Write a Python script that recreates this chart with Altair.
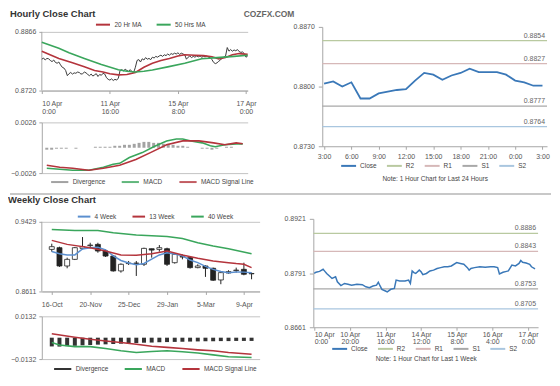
import altair as alt
import pandas as pd

FONT = "Liberation Sans"
LBL = "#555555"
GRID = "#c4c4c4"
AXL = "#a6a6a6"
RED = "#b4343c"
GREEN = "#3aa65c"

# ---------------- hourly chart data ----------------
h_ticks = [0, 20, 40, 60, 80, 100, 120]
h_tick_labels = [["10 Apr", "0:00"], ["10 Apr", "20:00"], ["11 Apr", "16:00"], ["14 Apr", "12:00"],
                 ["15 Apr", "8:00"], ["16 Apr", "4:00"], ["17 Apr", "0:00"]]
h_yticks = [0.8720, 0.8768, 0.8817, 0.8866]
h_close = [0.8798, 0.8801, 0.8796, 0.8800, 0.8799, 0.8795, 0.8792, 0.8796, 0.8790, 0.8788,
           0.8791, 0.8784, 0.8778, 0.8776, 0.8770, 0.8757, 0.8762, 0.8765, 0.8761, 0.8764,
           0.8763, 0.8766, 0.8765, 0.8761, 0.8762, 0.8766, 0.8764, 0.8760, 0.8757, 0.8761,
           0.8756, 0.8759, 0.8762, 0.8755, 0.8760, 0.8758, 0.8763, 0.8761, 0.8752, 0.8748,
           0.8746, 0.8749, 0.8745, 0.8748, 0.8746, 0.8751, 0.8770, 0.8772, 0.8769, 0.8773,
           0.8770, 0.8768, 0.8772, 0.8767, 0.8765, 0.8778, 0.8795, 0.8797, 0.8791, 0.8799,
           0.8796, 0.8802, 0.8798, 0.8800, 0.8797, 0.8803, 0.8801, 0.8805, 0.8803, 0.8806,
           0.8808, 0.8805, 0.8809, 0.8807, 0.8811, 0.8808, 0.8812, 0.8810, 0.8813, 0.8811,
           0.8814, 0.8810, 0.8813, 0.8811, 0.8809, 0.8798, 0.8803, 0.8806, 0.8802, 0.8805,
           0.8803, 0.8806, 0.8804, 0.8806, 0.8803, 0.8805, 0.8804, 0.8806, 0.8803, 0.8802,
           0.8797, 0.8790, 0.8787, 0.8789, 0.8793, 0.8796, 0.8801, 0.8803, 0.8806, 0.8827,
           0.8818, 0.8822, 0.8818, 0.8821, 0.8819, 0.8822, 0.8817, 0.8815, 0.8816, 0.8812,
           0.8803, 0.8806]
ma20_i = [0, 10, 18, 25, 31, 36, 40, 45, 50, 55, 60, 65, 70, 75, 80, 84, 90, 95, 100, 104, 108, 112, 116, 121]
ma20_v = [0.8818, 0.8800, 0.8789, 0.8779, 0.8770, 0.8766, 0.8762, 0.8759, 0.8760, 0.8765, 0.8778, 0.8788,
          0.8795, 0.8800, 0.8806, 0.8809, 0.8808, 0.8807, 0.8804, 0.8799, 0.8802, 0.8809, 0.8812, 0.8810]
ma50_i = [0, 10, 16, 25, 35, 45, 50, 55, 60, 65, 74, 84, 94, 103, 113, 121]
ma50_v = [0.8840, 0.8825, 0.8814, 0.8800, 0.8785, 0.8772, 0.8768, 0.8766, 0.8768, 0.8771, 0.8779,
          0.8788, 0.8799, 0.8802, 0.8805, 0.8808]
hmacd_i = [0, 8, 16, 26, 35, 41, 45, 51, 59, 66, 74, 80, 84, 89, 96, 101, 104, 110, 117, 121]
hmacd_v = [-0.0021, -0.0022, -0.0023, -0.0023, -0.0020, -0.0017, -0.0016, -0.0010, -0.0005, 0.0001,
           0.0007, 0.0009, 0.0009, 0.0007, 0.0005, 0.0002, 0.0001, 0.0003, 0.0004, 0.0004]
hsig_i = [0, 8, 16, 26, 35, 45, 55, 64, 74, 84, 94, 103, 110, 117, 121]
hsig_v = [-0.0018, -0.0020, -0.0021, -0.0023, -0.0021, -0.0018, -0.0012, -0.0005, 0.0003, 0.0007,
          0.0007, 0.0005, 0.0003, 0.0005, 0.0004]
hdiv_i = list(range(0, 121, 3))
hdiv_v = [-0.0002, -0.0002, -0.0001, -0.0001, -0.0001, 0.0, -0.0001, 0.0, 0.0, 0.0, 0.0001, 0.0001,
          0.0001, 0.0001, 0.0002, 0.0002, 0.0003, 0.0003, 0.0004, 0.0005, 0.0006, 0.0006, 0.0005,
          0.0005, 0.0004, 0.0004, 0.0003, 0.0002, 0.0002, 0.0001, 0.0, 0.0, -0.0001, -0.0001,
          -0.0002, -0.0001, 0.0, 0.0001, 0.0001, 0.0, 0.0]

# 24-hour pivot chart
d_ticks = [0, 3, 6, 9, 12, 15, 18, 21, 24]
d_tick_labels = ["3:00", "6:00", "9:00", "12:00", "15:00", "18:00", "21:00", "0:00", "3:00"]
d_close = [0.88035, 0.8806, 0.8800, 0.8805, 0.8786, 0.8786, 0.8792, 0.8794, 0.8796, 0.8797,
           0.8807, 0.8816, 0.8814, 0.8808, 0.8813, 0.8816, 0.8821, 0.8817, 0.8817, 0.8817,
           0.8814, 0.8807, 0.8805, 0.8801, 0.8801]
d_piv_names = ["R2", "R1", "S1", "S2"]
d_piv_pos = [0.8854, 0.8827, 0.8777, 0.8753]
d_piv_text = ["0.8854", "0.8827", "0.8777", "0.8764"]

# ---------------- weekly chart data ----------------
w_ticks = [0, 5, 10, 15, 20, 25]
w_tick_labels = ["16-Oct", "20-Nov", "25-Dec", "29-Jan", "5-Mar", "9-Apr"]
w_yticks = [0.8611, 0.8884, 0.9156, 0.9429]
w_open = [0.9105, 0.9125, 0.8910, 0.8988, 0.9117, 0.9150, 0.9164, 0.9086, 0.9027, 0.8852, 0.8938,
          0.8944, 0.8930, 0.9113, 0.9105, 0.9113, 0.8949, 0.9020, 0.9008, 0.8891, 0.8910, 0.8883,
          0.8746, 0.8828, 0.8856, 0.8871, 0.8822]
w_high = [0.9172, 0.9137, 0.9008, 0.9133, 0.9250, 0.9183, 0.9183, 0.9105, 0.9039, 0.8941, 0.8969,
          0.8969, 0.9125, 0.9113, 0.9156, 0.9125, 0.9055, 0.9047, 0.9016, 0.8930, 0.8918, 0.8891,
          0.8844, 0.8860, 0.8891, 0.8949, 0.8832]
w_low = [0.9078, 0.8899, 0.8883, 0.8980, 0.9105, 0.9117, 0.9066, 0.9016, 0.8844, 0.8832, 0.8922,
         0.8793, 0.8910, 0.9008, 0.9078, 0.8910, 0.8938, 0.8988, 0.8879, 0.8883, 0.8782, 0.8735,
         0.8696, 0.8820, 0.8832, 0.8801, 0.8754]
w_close = [0.9137, 0.8910, 0.8988, 0.9125, 0.9137, 0.9156, 0.9086, 0.9027, 0.8852, 0.8930, 0.8944,
           0.8941, 0.9117, 0.9097, 0.9125, 0.8930, 0.9047, 0.9016, 0.8891, 0.8910, 0.8883, 0.8743,
           0.8832, 0.8844, 0.8862, 0.8813, 0.8818]
w_ma4 = [0.9080, 0.9055, 0.9040, 0.9040, 0.9110, 0.9125, 0.9130, 0.9100, 0.9030, 0.8975, 0.8945,
         0.8925, 0.8940, 0.8990, 0.9040, 0.9065, 0.9050, 0.9030, 0.8980, 0.8950, 0.8905, 0.8870,
         0.8845, 0.8830, 0.8840, 0.8838, 0.8830]
w_ma13_i = [0, 2, 5, 7, 9, 11, 13, 15, 17, 19, 21, 23, 24, 25, 26]
w_ma13_v = [0.9211, 0.9164, 0.9125, 0.9086, 0.9039, 0.9035, 0.9055, 0.9086, 0.9039, 0.9000, 0.8969,
            0.8949, 0.8938, 0.8930, 0.8891]
w_ma40_i = [0, 3, 6, 8, 11, 15, 17, 19, 21, 23, 26]
w_ma40_v = [0.9339, 0.9328, 0.9328, 0.9300, 0.9273, 0.9257, 0.9234, 0.9183, 0.9144, 0.9113, 0.9055]
wmacd_i = [0, 1, 3, 5, 7, 9, 11, 13, 15, 17, 19, 21, 23, 26]
wmacd_v = [-0.0030, -0.0045, -0.0055, -0.0055, -0.0067, -0.0081, -0.0091, -0.0085, -0.0081, -0.0087,
           -0.0095, -0.0106, -0.0118, -0.0122]
wsig_i = [0, 3, 5, 7, 9, 11, 13, 15, 17, 19, 21, 23, 26]
wsig_v = [0.0024, 0.0003, -0.0010, -0.0020, -0.0030, -0.0040, -0.0053, -0.0060, -0.0067, -0.0075,
          -0.0081, -0.0091, -0.0102]
wdiv_v = [-0.0054, -0.0055, -0.0052, -0.0050, -0.0047, -0.0045, -0.0043, -0.0041, -0.0039, -0.0037,
          -0.0035, -0.0033, -0.0031, -0.0030, -0.0028, -0.0027, -0.0026, -0.0025, -0.0024, -0.0023,
          -0.0022, -0.0022, -0.0021, -0.0021, -0.0020, -0.0020, -0.0020]

# one-week pivot chart
k_i = [0, 1, 3, 5, 6, 7, 9, 10, 12, 13, 15, 17, 19, 21, 24, 27, 29, 31, 33, 35, 36, 37, 38, 40, 41,
       42, 43, 45, 46, 48, 51, 53, 54, 55, 56, 57, 59, 60, 61, 63, 65, 67, 69, 71, 73, 75, 77, 80,
       82, 84, 86, 87, 88, 90, 93, 96, 99, 101, 103, 104, 106, 108, 109, 111, 113, 115, 116, 117,
       119, 121, 122, 124]
k_v = [0.8790, 0.8793, 0.8795, 0.8800, 0.8795, 0.8790, 0.8782, 0.8778, 0.8782, 0.8770, 0.8761,
       0.8766, 0.8764, 0.8762, 0.8764, 0.8763, 0.8758, 0.8756, 0.8760, 0.8762, 0.8769, 0.8760,
       0.8752, 0.8748, 0.8746, 0.8749, 0.8752, 0.8754, 0.8774, 0.8772, 0.8772, 0.8774, 0.8766,
       0.8796, 0.8792, 0.8790, 0.8798, 0.8794, 0.8787, 0.8790, 0.8796, 0.8798, 0.8802, 0.8804,
       0.8806, 0.8806, 0.8808, 0.8816, 0.8814, 0.8812, 0.8804, 0.8798, 0.8802, 0.8804, 0.8806,
       0.8805, 0.8806, 0.8806, 0.8804, 0.8789, 0.8793, 0.8795, 0.8796, 0.8810, 0.8808, 0.8814,
       0.8821, 0.8817, 0.8815, 0.8812, 0.8806, 0.8801]
k_piv_names = ["R2", "R1", "S1", "S2"]
k_piv_pos = [0.8886, 0.8843, 0.8753, 0.8705]
k_piv_text = ["0.8886", "0.8843", "0.8753", "0.8705"]

PIV_DOMAIN = ["Close", "R2", "R1", "S1", "S2"]
PIV_RANGE = ["#3a78b8", "#b9c9a0", "#d6b8b8", "#a8a8a8", "#a9c6df"]


def label_expr(ticks, labels):
    expr = "''"
    for t, lab in reversed(list(zip(ticks, labels))):
        if isinstance(lab, list):
            lit = "[" + ",".join("'%s'" % s for s in lab) + "]"
        else:
            lit = "'%s'" % lab
        expr = "datum.value == %s ? %s : (%s)" % (t, lit, expr)
    return expr


def yaxis(vals, ext, grid=True, domain=True):
    return alt.Axis(values=vals, format=".4f", title=None, grid=grid, minExtent=ext, maxExtent=ext,
                    tickSize=3, labelPadding=3, domain=domain)


def leg(x, y, pad=10, size=196):
    return alt.Legend(orient="none", legendX=x, legendY=y, direction="horizontal", title=None,
                      symbolType="stroke", symbolSize=size, symbolStrokeWidth=2,
                      columnPadding=pad, labelFontSize=6.5, labelColor="#444", labelOffset=3)


def indep(c):
    return c.resolve_scale(color="independent").resolve_legend(color="independent")


def text_layer(txt, x, y, size=9.5, color="#333"):
    return alt.Chart(pd.DataFrame({"t": [txt]})).mark_text(
        align="left", baseline="top", fontSize=size, fontWeight="bold",
        color=color).encode(x=alt.value(x), y=alt.value(y), text="t:N")


def axis_line(lo, hi):
    return alt.Chart(pd.DataFrame({"lo": [lo], "hi": [hi]})).mark_rule(color=AXL).encode(
        x=alt.value(0), y="lo:Q", y2="hi:Q")


# ---------------- hourly price ----------------
HW, HPH, HMH = 207, 64, 51
hx_scale = alt.Scale(domain=[0, 121], nice=False, zero=False)
df_hc = pd.DataFrame({"i": list(range(len(h_close))), "v": h_close})
df_hma = pd.concat([pd.DataFrame({"i": ma20_i, "v": ma20_v, "s": "20 Hr MA"}),
                    pd.DataFrame({"i": ma50_i, "v": ma50_v, "s": "50 Hrs MA"})])
hp_close = alt.Chart(df_hc).mark_line(color="#3a3a3a", strokeWidth=1).encode(
    x=alt.X("i:Q", scale=hx_scale,
            axis=alt.Axis(values=h_ticks, labelExpr=label_expr(h_ticks, h_tick_labels), title=None,
                          grid=False, tickSize=3, labelPadding=6, labelLineHeight=8.5)),
    y=alt.Y("v:Q", scale=alt.Scale(domain=[0.8720, 0.88784], nice=False, zero=False),
            axis=yaxis(h_yticks, 32, domain=False)))
hp_ma = alt.Chart(df_hma).mark_line(strokeWidth=1.6).encode(
    x="i:Q", y="v:Q",
    color=alt.Color("s:N", scale=alt.Scale(domain=["20 Hr MA", "50 Hrs MA"], range=[RED, GREEN]),
                    legend=leg(53, -11, pad=10, size=200)))
HP = alt.layer(axis_line(h_yticks[0], h_yticks[-1]), hp_close, hp_ma,
               text_layer("Hourly Close Chart", -32, -18)
               ).properties(width=HW, height=HPH)

# ---------------- hourly MACD ----------------
df_hline = pd.concat([pd.DataFrame({"i": hmacd_i, "v": hmacd_v, "s": "MACD"}),
                      pd.DataFrame({"i": hsig_i, "v": hsig_v, "s": "MACD Signal Line"})])
df_hdiv = pd.DataFrame({"i": hdiv_i, "v": hdiv_v, "s": "Divergence"})
hm_scale_c = alt.Scale(domain=["Divergence", "MACD", "MACD Signal Line"], range=["#8c8c8c", GREEN, RED])
hm_div = alt.Chart(df_hdiv).mark_bar(size=3, opacity=0.8).encode(
    x=alt.X("i:Q", scale=hx_scale, axis=None),
    y=alt.Y("v:Q", scale=alt.Scale(domain=[-0.0026, 0.0026], nice=False, zero=False),
            axis=yaxis([-0.0026, 0.0, 0.0026], 32)),
    color=alt.Color("s:N", scale=hm_scale_c, legend=leg(8, 50, pad=12, size=300)))
hm_lines = alt.Chart(df_hline).mark_line(strokeWidth=1.6).encode(
    x="i:Q", y="v:Q", color=alt.Color("s:N", scale=hm_scale_c))
HM = alt.layer(hm_div, hm_lines).properties(width=HW, height=HMH)

# ---------------- 24h pivot ----------------
PW, DPH = 226, 120
df_dc = pd.DataFrame({"i": list(range(len(d_close))), "v": d_close, "s": "Close"})
df_dp = pd.DataFrame({"v": d_piv_pos, "t": d_piv_text, "s": d_piv_names})
piv_color = alt.Color("s:N", scale=alt.Scale(domain=PIV_DOMAIN, range=PIV_RANGE),
                      legend=leg(18, 131, pad=6, size=225))
dp_rules = alt.Chart(df_dp).mark_rule(strokeWidth=1.3).encode(
    y=alt.Y("v:Q", scale=alt.Scale(domain=[0.8730, 0.8870], nice=False, zero=False),
            axis=alt.Axis(values=[0.8730, 0.8765, 0.8800, 0.8836, 0.8870], format=".4f", title=None,
                          grid=False, minExtent=30, maxExtent=30, tickSize=4, labelPadding=4)),
    color=piv_color)
dp_line = alt.Chart(df_dc).mark_line(strokeWidth=1.8).encode(
    x=alt.X("i:Q", scale=alt.Scale(domain=[-0.2, 24.5], nice=False, zero=False),
            axis=alt.Axis(values=d_ticks, labelExpr=label_expr(d_ticks, d_tick_labels),
                          title="Note: 1 Hour Chart for Last 24 Hours", titleFontSize=6.5,
                          titleFontWeight="normal", titleColor="#444", titlePadding=16,
                          grid=False, tickSize=3, labelPadding=3)),
    y="v:Q", color=piv_color)
dp_text = alt.Chart(df_dp).mark_text(align="right", baseline="bottom", dy=-2, fontSize=7,
                                     color="#666").encode(x=alt.value(PW - 2), y="v:Q", text="t:N")
DP = alt.layer(dp_rules, dp_line, dp_text,
               text_layer("COZFX.COM", -79, -17, size=8.5, color="#666")
               ).properties(width=PW, height=DPH)

# ---------------- weekly price ----------------
WW, WPH, WMH = 219, 73, 43
wx_scale = alt.Scale(domain=[-0.65, 26.4], nice=False, zero=False)
wy_scale = alt.Scale(domain=[0.8611, 0.9464], nice=False, zero=False)
n = len(w_open)
df_w = pd.DataFrame({"i": list(range(n)), "o": w_open, "h": w_high, "l": w_low, "c": w_close,
                     "up": [c >= o for o, c in zip(w_open, w_close)]})
w_wick = alt.Chart(df_w).mark_rule(color="#222", strokeWidth=1).encode(
    x=alt.X("i:Q", scale=wx_scale,
            axis=alt.Axis(values=w_ticks, labelExpr=label_expr(w_ticks, w_tick_labels), title=None,
                          grid=False, tickSize=3, labelPadding=6)),
    y=alt.Y("l:Q", scale=wy_scale, axis=yaxis(w_yticks, 34, domain=False)),
    y2="h:Q")
w_body = alt.Chart(df_w).mark_bar(size=5, stroke="#222", strokeWidth=0.8).encode(
    x="i:Q", y="o:Q", y2="c:Q",
    fill=alt.condition("datum.up", alt.value("white"), alt.value("#222")))
df_wma = pd.concat([pd.DataFrame({"i": list(range(n)), "v": w_ma4, "s": "4 Week"}),
                    pd.DataFrame({"i": w_ma13_i, "v": w_ma13_v, "s": "13 Week"}),
                    pd.DataFrame({"i": w_ma40_i, "v": w_ma40_v, "s": "40 Week"})])
w_ma = alt.Chart(df_wma).mark_line(strokeWidth=1.5).encode(
    x="i:Q", y="v:Q",
    color=alt.Color("s:N", scale=alt.Scale(domain=["4 Week", "13 Week", "40 Week"],
                                           range=["#5b8fcf", RED, GREEN]),
                    legend=leg(35, -10, pad=12, size=160)))
WP = alt.layer(axis_line(w_yticks[0], w_yticks[-1]), w_wick, w_body, w_ma,
               text_layer("Weekly Close Chart", -34, -24)
               ).properties(width=WW, height=WPH)

# ---------------- weekly MACD ----------------
df_wline = pd.concat([pd.DataFrame({"i": wmacd_i, "v": wmacd_v, "s": "MACD"}),
                      pd.DataFrame({"i": wsig_i, "v": wsig_v, "s": "MACD Signal Line"})])
df_wdiv = pd.DataFrame({"i": list(range(n)), "v": wdiv_v, "s": "Divergence"})
wm_scale_c = alt.Scale(domain=["Divergence", "MACD", "MACD Signal Line"], range=["#333333", GREEN, RED])
wm_div = alt.Chart(df_wdiv).mark_bar(size=4).encode(
    x=alt.X("i:Q", scale=wx_scale, axis=None),
    y=alt.Y("v:Q", scale=alt.Scale(domain=[-0.0132, 0.0132], nice=False, zero=False),
            axis=yaxis([-0.0132, 0.0, 0.0132], 34)),
    color=alt.Color("s:N", scale=wm_scale_c, legend=leg(11, 43, pad=12, size=300)))
wm_lines = alt.Chart(df_wline).mark_line(strokeWidth=1.6).encode(
    x="i:Q", y="v:Q", color=alt.Color("s:N", scale=wm_scale_c))
WM = alt.layer(wm_div, wm_lines).properties(width=WW, height=WMH)

# ---------------- one-week pivot ----------------
KPH = 109
df_kc = pd.DataFrame({"i": k_i, "v": k_v, "s": "Close"})
df_kp = pd.DataFrame({"v": k_piv_pos, "t": k_piv_text, "s": k_piv_names})
kp_rules = alt.Chart(df_kp).mark_rule(strokeWidth=1.3).encode(
    y=alt.Y("v:Q", scale=alt.Scale(domain=[0.8661, 0.8921], nice=False, zero=False),
            axis=alt.Axis(values=[0.8661, 0.8726, 0.8791, 0.8856, 0.8921], format=".4f", title=None,
                          grid=False, minExtent=30, maxExtent=30, tickSize=4, labelPadding=4)),
    color=alt.Color("s:N", scale=alt.Scale(domain=PIV_DOMAIN, range=PIV_RANGE),
                    legend=leg(18, 122, pad=6, size=225)))
kp_line = alt.Chart(df_kc).mark_line(strokeWidth=1.5).encode(
    x=alt.X("i:Q", scale=alt.Scale(domain=[-0.5, 125.7], nice=False, zero=False),
            axis=alt.Axis(values=h_ticks, labelExpr=label_expr(h_ticks, h_tick_labels),
                          title="Note: 1 Hour Chart for Last 1 Week", titleFontSize=6.5,
                          titleFontWeight="normal", titleColor="#444", titlePadding=11,
                          grid=False, tickSize=3, labelPadding=0, labelLineHeight=7.5)),
    y="v:Q", color=alt.Color("s:N", scale=alt.Scale(domain=PIV_DOMAIN, range=PIV_RANGE)))
kp_text = alt.Chart(df_kp).mark_text(align="right", baseline="bottom", dy=-2, fontSize=7,
                                     color="#666").encode(x=alt.value(PW - 2), y="v:Q", text="t:N")
KP = alt.layer(kp_rules, kp_line, kp_text).properties(width=PW, height=KPH)

# ---------------- separator ----------------
LEFT = -32
TOTW = 544
sep = alt.Chart(pd.DataFrame({"t": ["a"]})).mark_rule(color="#c8c8c8", strokeWidth=2).encode(
    x=alt.value(LEFT), x2=alt.value(LEFT + TOTW), y=alt.value(8)).properties(width=100, height=9)

row1 = indep(alt.hconcat(indep(alt.vconcat(HP, HM, spacing=3)), DP, spacing=-13))
row2 = indep(alt.hconcat(indep(alt.vconcat(WP, WM, spacing=5)), KP, spacing=24))

chart = indep(alt.vconcat(row1, sep, row2, spacing=0)).properties(
    padding={"left": 0, "top": 0, "right": 0, "bottom": 0}
).configure_view(stroke=None).configure_axis(
    labelFont=FONT, labelFontSize=7, labelColor=LBL, domainColor=AXL, tickColor=AXL,
    gridColor=GRID, titleFont=FONT
).configure_legend(labelFont=FONT).configure_text(font=FONT)

chart.save("out.html", embed_options={"renderer": "svg", "actions": False})
